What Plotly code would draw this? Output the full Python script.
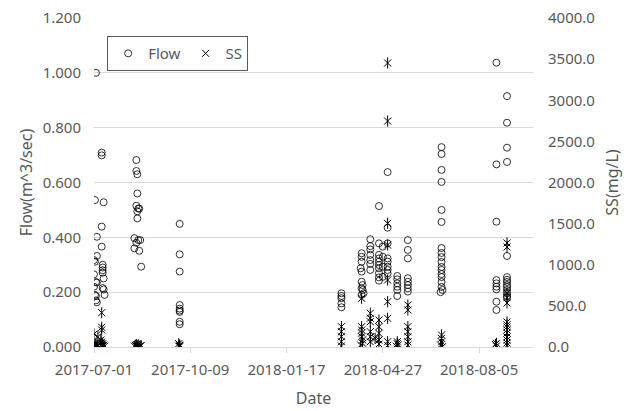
import plotly.graph_objects as go

# ---- Flow (m^3/sec), left axis ----
flow_dates = [
    "2017-07-03", "2017-07-09", "2017-07-09", "2017-07-02", "2017-07-11", "2017-07-09",
    "2017-07-04", "2017-07-09", "2017-07-04", "2017-07-01", "2017-07-02", "2017-07-10",
    "2017-07-10", "2017-07-10", "2017-07-10", "2017-07-01", "2017-07-11", "2017-07-03",
    "2017-07-04", "2017-07-01", "2017-07-10", "2017-07-11", "2017-07-02", "2017-07-03",
    "2017-07-12", "2017-07-03", "2017-07-04",
    "2017-08-14", "2017-08-14", "2017-08-15", "2017-08-15", "2017-08-14", "2017-08-16",
    "2017-08-17", "2017-08-15", "2017-08-15", "2017-08-12", "2017-08-16", "2017-08-18",
    "2017-08-14", "2017-08-12", "2017-08-17", "2017-08-19",
    "2017-09-28", "2017-09-28", "2017-09-28", "2017-09-28", "2017-09-28", "2017-09-28",
    "2017-09-28", "2017-09-28", "2017-09-28",
    "2018-03-15", "2018-03-15", "2018-03-15", "2018-03-15", "2018-03-15",
    "2018-04-05", "2018-04-05", "2018-04-05", "2018-04-04", "2018-04-05", "2018-04-05",
    "2018-04-06", "2018-04-05", "2018-04-06", "2018-04-05", "2018-04-07",
    "2018-04-14", "2018-04-14", "2018-04-14", "2018-04-14", "2018-04-14", "2018-04-14",
    "2018-04-14",
    "2018-04-23", "2018-04-23", "2018-04-23", "2018-04-23", "2018-04-23", "2018-04-23",
    "2018-04-23", "2018-04-23", "2018-04-23", "2018-04-23", "2018-04-27", "2018-04-27",
    "2018-04-27", "2018-04-27",
    "2018-05-02", "2018-05-02", "2018-05-02", "2018-05-02", "2018-05-02", "2018-05-02",
    "2018-05-02", "2018-05-02",
    "2018-05-12", "2018-05-12", "2018-05-12", "2018-05-12", "2018-05-12", "2018-05-12",
    "2018-05-23", "2018-05-23", "2018-05-23", "2018-05-23", "2018-05-23", "2018-05-23",
    "2018-05-23", "2018-05-23",
    "2018-06-27", "2018-06-27", "2018-06-27", "2018-06-27", "2018-06-27", "2018-06-27",
    "2018-06-27", "2018-06-27", "2018-06-27", "2018-06-27", "2018-06-27", "2018-06-27",
    "2018-06-27", "2018-06-27", "2018-06-27", "2018-06-27", "2018-06-28", "2018-06-26",
    "2018-08-23", "2018-08-23", "2018-08-23", "2018-08-23", "2018-08-23", "2018-08-23",
    "2018-08-23", "2018-08-23", "2018-08-23",
    "2018-09-03", "2018-09-03", "2018-09-03", "2018-09-03", "2018-09-03", "2018-09-03",
    "2018-09-03", "2018-09-03", "2018-09-03", "2018-09-03", "2018-09-03", "2018-09-03",
    "2018-09-03", "2018-09-03",
]
flow_values = [
    1.000, 0.709, 0.699, 0.536, 0.528, 0.439,
    0.402, 0.366, 0.332, 0.317, 0.311, 0.300,
    0.290, 0.280, 0.271, 0.265, 0.250, 0.237,
    0.235, 0.220, 0.215, 0.210, 0.190, 0.186,
    0.190, 0.170, 0.163,
    0.682, 0.642, 0.630, 0.560, 0.515, 0.505,
    0.505, 0.495, 0.469, 0.397, 0.390, 0.390,
    0.380, 0.360, 0.351, 0.293,
    0.449, 0.338, 0.275, 0.153, 0.140, 0.133,
    0.128, 0.092, 0.083,
    0.196, 0.186, 0.178, 0.159, 0.145,
    0.342, 0.329, 0.311, 0.287, 0.275, 0.238,
    0.226, 0.214, 0.208, 0.190, 0.196,
    0.393, 0.368, 0.356, 0.336, 0.317, 0.303,
    0.281,
    0.514, 0.378, 0.336, 0.323, 0.311, 0.299,
    0.287, 0.269, 0.254, 0.242, 0.366, 0.329,
    0.293, 0.256,
    0.638, 0.435, 0.378, 0.323, 0.311, 0.293,
    0.281, 0.269,
    0.259, 0.247, 0.232, 0.220, 0.208, 0.186,
    0.390, 0.354, 0.323, 0.251, 0.238, 0.226,
    0.214, 0.202,
    0.729, 0.704, 0.646, 0.602, 0.500, 0.456,
    0.361, 0.343, 0.328, 0.310, 0.292, 0.281,
    0.266, 0.255, 0.237, 0.219, 0.208, 0.200,
    1.037, 0.666, 0.457, 0.244, 0.232, 0.220,
    0.210, 0.165, 0.135,
    0.915, 0.818, 0.727, 0.675, 0.332, 0.255,
    0.245, 0.237, 0.226, 0.219, 0.208, 0.197,
    0.186, 0.179,
]

# ---- SS (mg/L), right axis ----
ss_dates = [
    "2017-07-09", "2017-07-09", "2017-07-09", "2017-07-01", "2017-07-05", "2017-07-08",
    "2017-07-09", "2017-07-01", "2017-07-02", "2017-07-03", "2017-07-04", "2017-07-05",
    "2017-07-08", "2017-07-09", "2017-07-10", "2017-07-10", "2017-07-11", "2017-07-12",
    "2017-07-03", "2017-07-10",
    "2017-08-12", "2017-08-13", "2017-08-14", "2017-08-15", "2017-08-16", "2017-08-17",
    "2017-08-18", "2017-08-19", "2017-08-14",
    "2017-09-27", "2017-09-28", "2017-09-28", "2017-09-27", "2017-09-28",
    "2018-03-15", "2018-03-15", "2018-03-15", "2018-03-15", "2018-03-15",
    "2018-04-05", "2018-04-05", "2018-04-05", "2018-04-05", "2018-04-06", "2018-04-04",
    "2018-04-05", "2018-04-06",
    "2018-04-14", "2018-04-14", "2018-04-14", "2018-04-14", "2018-04-14", "2018-04-14",
    "2018-04-23", "2018-04-23", "2018-04-23", "2018-04-23", "2018-04-23", "2018-04-19",
    "2018-05-02", "2018-05-02", "2018-05-02", "2018-05-02", "2018-05-02", "2018-05-02",
    "2018-05-02", "2018-05-02", "2018-05-02",
    "2018-05-12", "2018-05-12", "2018-05-11", "2018-05-13",
    "2018-05-23", "2018-05-23", "2018-05-23", "2018-05-23", "2018-05-23", "2018-05-23",
    "2018-05-23",
    "2018-06-27", "2018-06-27", "2018-06-27", "2018-06-26", "2018-06-28",
    "2018-08-23", "2018-08-23", "2018-08-22",
    "2018-09-03", "2018-09-03", "2018-09-03", "2018-09-03", "2018-09-03", "2018-09-03",
    "2018-09-03", "2018-09-03", "2018-09-03", "2018-09-03", "2018-09-03", "2018-09-03",
    "2018-09-03", "2018-09-03",
]
ss_values = [
    417, 240, 207, 158, 125, 85,
    60, 30, 12, 20, 8, 15,
    25, 10, 18, 5, 22, 10,
    45, 40,
    10, 20, 5, 15, 25, 8,
    12, 18, 30,
    10, 25, 5, 40, 15,
    247, 186, 125, 64, 12,
    592, 247, 207, 125, 45, 24,
    170, 85,
    410, 349, 308, 186, 125, 64,
    328, 247, 166, 85, 36, 105,
    3453, 2747, 1504, 1240, 815, 551,
    349, 64, 20,
    64, 40, 10, 25,
    511, 450, 247, 186, 125, 64,
    24,
    146, 105, 64, 24, 4,
    45, 12, 30,
    1265, 1216, 657, 600, 535, 304,
    270, 243, 207, 170, 122, 85,
    49, 20,
]

x_ticks = ["2017-07-01", "2017-10-09", "2018-01-17", "2018-04-27", "2018-08-05"]

GREY = "#595959"
GRID = "#d9d9d9"
FONT = "Noto Sans"

fig = go.Figure()
fig.add_trace(go.Scatter(
    x=flow_dates, y=flow_values, mode="markers", name="Flow",
    marker=dict(symbol="circle-open", size=7, color="#000000", line=dict(width=0.8)),
))
fig.add_trace(go.Scatter(
    x=ss_dates, y=ss_values, mode="markers", name="SS", yaxis="y2",
    marker=dict(symbol="x-thin-open", size=7, color="#000000", line=dict(width=1)),
))
fig.add_trace(go.Scatter(
    x=ss_dates, y=ss_values, mode="markers", name="SS", yaxis="y2", showlegend=False,
    marker=dict(symbol="line-ns-open", size=8, color="#000000", line=dict(width=1)),
))

fig.update_layout(
    width=632, height=411,
    margin=dict(l=94, r=99, t=18, b=64),
    paper_bgcolor="white", plot_bgcolor="white",
    font=dict(family=FONT, size=15, color=GREY),
    showlegend=True,
    legend=dict(
        orientation="h", x=0.03, y=0.945, xanchor="left", yanchor="top",
        bordercolor=GREY, borderwidth=1, bgcolor="white",
        font=dict(family=FONT, size=15, color=GREY),
        itemwidth=30, tracegroupgap=0,
    ),
    xaxis=dict(
        type="date", range=["2017-07-01", "2018-09-30"],
        tickvals=x_ticks, ticktext=x_ticks,
        showgrid=False, zeroline=False, automargin=False,
        showline=True, linecolor=GRID, linewidth=1,
        ticks="outside", ticklen=5, tickcolor=GRID,
        ticklabelstandoff=4,
        tickfont=dict(size=15, color=GREY),
        title=dict(text="Date", font=dict(size=16, color=GREY), standoff=14),
    ),
    yaxis=dict(
        range=[0, 1.2], dtick=0.2, tickformat=".3f", automargin=False,
        showgrid=True, gridcolor=GRID, gridwidth=1, zeroline=False,
        showline=False, ticks="", ticklabelstandoff=12,
        tickfont=dict(size=15, color=GREY),
        title=dict(text="Flow(m^3/sec)", font=dict(size=16, color=GREY), standoff=6),
    ),
    yaxis2=dict(
        range=[0, 4000], dtick=500, tickformat=".1f", automargin=False,
        overlaying="y", side="right",
        showgrid=False, zeroline=False, showline=False, ticks="",
        ticklabelstandoff=14,
        tickfont=dict(size=15, color=GREY),
        title=dict(text="SS(mg/L)", font=dict(size=16, color=GREY), standoff=12),
    ),
)

fig.write_html("out.html")
